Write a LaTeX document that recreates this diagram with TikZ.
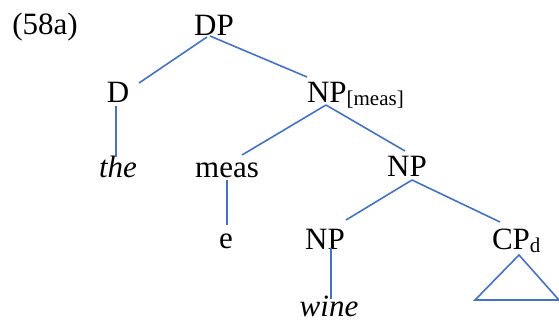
\documentclass[tikz,border=0pt]{standalone}
\usepackage{fontspec}
\setmainfont{Liberation Serif}
\usetikzlibrary{calc}
\definecolor{branch}{RGB}{68,114,196}
\newcommand{\lbsub}[1]{\raisebox{-3.5pt}{\fontsize{21}{21}\selectfont #1}}
\begin{document}
\begin{tikzpicture}[x=1pt,y=-1pt,
  lab/.style={inner sep=0pt,outer sep=0pt,font=\fontsize{31}{36}\selectfont},
  br/.style={draw=branch,line width=1.6pt}]
\useasboundingbox (0,0) rectangle (559,322);
\node[lab,anchor=base] (ex) at (45,34) {(58a)};
\node[lab,anchor=base] (DP) at (214,35) {DP};
\node[lab,anchor=base] (D) at (118,102) {D};
\node[lab,anchor=base west] (NPm) at (307,102) {NP\lbsub{[meas]}};
\node[lab,anchor=base] (the) at (118,177) {\itshape the};
\node[lab,anchor=base] (meas) at (227,177) {meas};
\node[lab,anchor=base] (NP) at (407,176) {NP};
\node[lab,anchor=base] (e) at (226,248) {e};
\node[lab,anchor=base] (NPb) at (325,249) {NP};
\node[lab,anchor=base west] (CP) at (492,249) {CP\lbsub{d}};
\node[lab,anchor=base] (wine) at (329,316) {\itshape wine};
\draw[br] ($(DP.base)+(-7,2)$) -- ($(D.base)+(21,-19)$);
\draw[br] ($(DP.base)+(-4,1)$) -- ($(NPm.base west)+(0,-25)$);
\draw[br] ($(D.base)+(-2,4)$) -- ($(the.base)+(-2,-20)$);
\draw[br] ($(NPm.base west)+(19,3)$) -- ($(meas.base)+(15,-22)$);
\draw[br] ($(NPm.base west)+(19,3)$) -- ($(NP.base)+(-2,-25)$);
\draw[br] ($(meas.base)+(0,3)$) -- ($(e.base)+(1,-23)$);
\draw[br] ($(NP.base)+(5,4)$) -- ($(NPb.base)+(21,-29)$);
\draw[br] ($(NP.base)+(5,4)$) -- ($(CP.base west)+(8,-27)$);
\draw[br] ($(NPb.base)+(6,-1)$) -- ($(wine.base)+(2,-17)$);
\draw[br,line join=miter] ($(CP.base west)+(27,6)$) -- ($(CP.base west)+(-17,51)$) -- ($(CP.base west)+(67,51)$) -- cycle;
\end{tikzpicture}
\end{document}
